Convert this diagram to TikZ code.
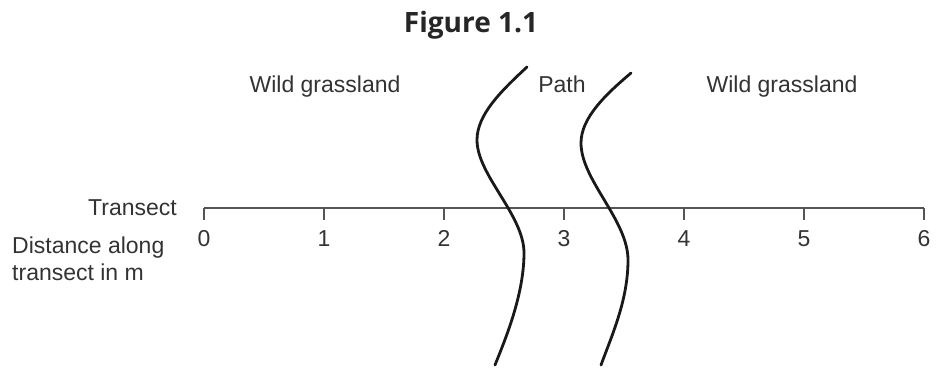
\documentclass[tikz,border=0pt]{standalone}
\usepackage{fontspec}
\setmainfont{Liberation Sans}
\newfontfamily\titlefont{Open Sans}
\usepackage{xcolor}
\definecolor{InkGray}{RGB}{51, 51, 51}
\definecolor{AxisGray}{RGB}{85, 85, 85}
\usetikzlibrary{positioning}

\begin{document}
\begin{tikzpicture}[
    x=1pt, y=-1pt,
    label/.style={text=InkGray, font=\fontsize{23}{27}\selectfont, inner sep=0pt, anchor=base},
    title/.style={text=black!85, font=\titlefont\bfseries\fontsize{28}{32}\selectfont, inner sep=0pt, anchor=base},
    axis/.style={AxisGray, line width=1.4pt},
    edge/.style={black!90, line width=2.8pt, line cap=round}
]
\useasboundingbox (0,0) rectangle (936,369);

% Title
\node[title] (title) at (471,33) {Figure 1.1};

% Areas
\node[label] (wildL) at (325,92) {Wild grassland};
\node[label] (path) at (562,92) {Path};
\node[label] (wildR) at (782,92) {Wild grassland};

% Transect line with ticks
\coordinate (t0) at (204,208);
\coordinate (t6) at (924,208);
\draw[axis] (t0) -- (t6);
\foreach \i in {0,...,6} {
    \draw[axis] (204+\i*120,208) -- (204+\i*120,220);
    \node[label] (num\i) at (204+\i*120,246) {\i};
}

% Axis labels
\node[label, anchor=base east] (transect) at (177,215) {Transect};
\node[label, anchor=base west] (dist) at (12,253) {Distance along};
\node[label, anchor=base west] (distb) at (12,280) {transect in m};

% Edges of the path
\draw[edge] (527,67) .. controls (500,92) and (477,115) .. (477,140)
    .. controls (477,175) and (524,215) .. (524,253)
    .. controls (524,295) and (505,340) .. (495,365);
\draw[edge] (631,73) .. controls (605,95) and (581,118) .. (581,143)
    .. controls (581,180) and (628,220) .. (628,260)
    .. controls (628,300) and (612,335) .. (601,365);

\end{tikzpicture}
\end{document}
